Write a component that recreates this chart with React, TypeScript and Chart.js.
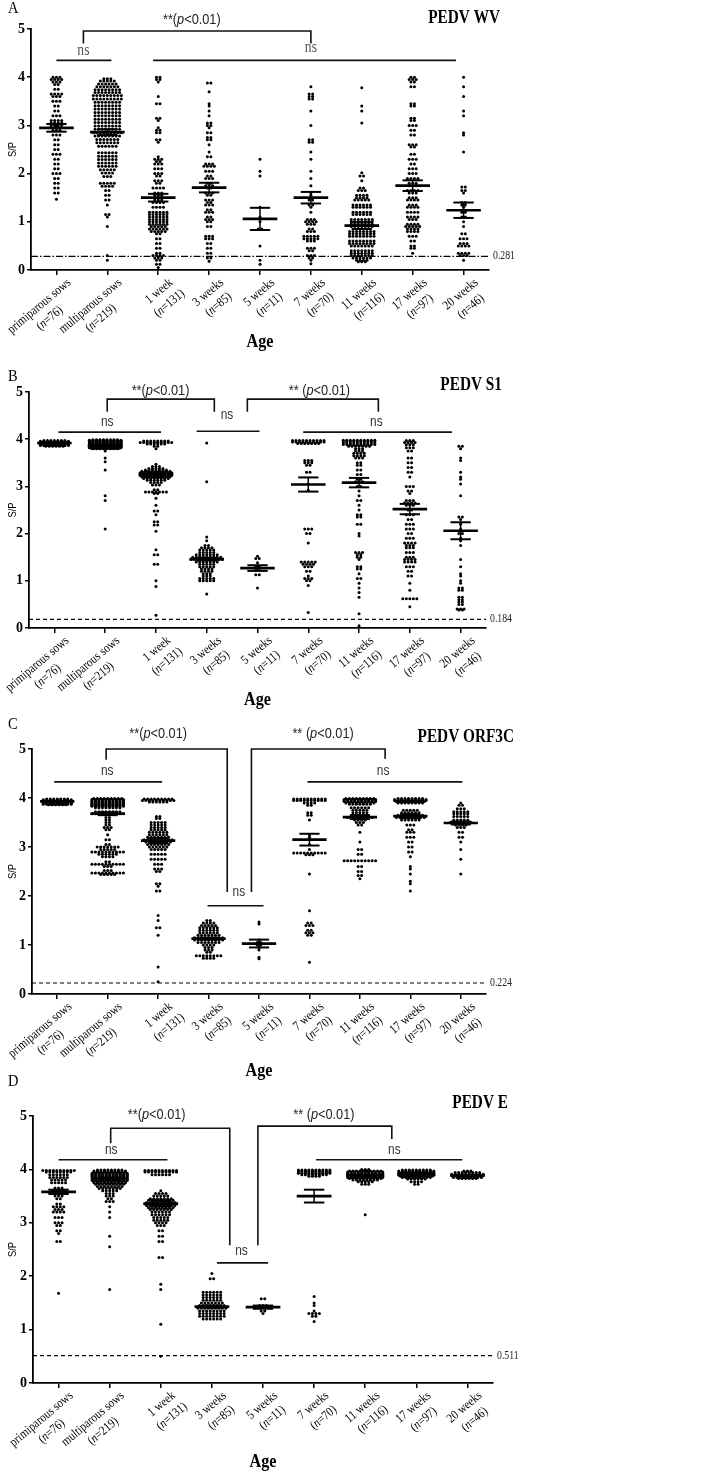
import React, { useEffect, useRef } from "react";
import { Chart, registerables } from "chart.js";
Chart.register(...registerables);

type Row = [number, number]; // [S/P value, number of dots on that row]
type NsBar = [number, number, number, number, number]; // x1, x2, y, textX, textY
type SigBracket = [number, number, number, number, number, number, number]; // x1, x2, yTop, yLeftEnd, yRightEnd, textX, textY

const categories = ["primiparous sows", "multiparous sows", "1 week", "3 weeks", "5 weeks", "7 weeks", "11 weeks", "17 weeks", "20 weeks"];
const sampleSizes = ["76", "219", "131", "85", "11", "70", "116", "97", "46"];
const yTicks = [0, 1, 2, 3, 4, 5];

// ---------------- Panel A: PEDV WV ----------------
const wvRows: Row[][] = [
  [[4.0,3],[3.95,4],[3.9,3],[3.85,2],[3.75,2],[3.65,4],[3.6,3],[3.5,3],[3.4,2],[3.3,2],[3.2,3],[3.1,4],[3.05,4],[3.0,4],[2.9,3],[2.8,3],[2.7,2],[2.6,2],[2.5,2],[2.4,3],[2.3,2],[2.2,2],[2.1,2],[2.0,3],[1.9,2],[1.8,2],[1.7,2],[1.6,2],[1.47,1]],
  [[3.97,3],[3.92,5],[3.86,6],[3.8,7],[3.74,8],[3.68,8],[3.62,9],[3.55,9],[3.48,8],[3.41,8],[3.34,8],[3.27,8],[3.2,8],[3.13,8],[3.06,8],[2.99,8],[2.92,8],[2.85,9],[2.78,8],[2.71,7],[2.64,7],[2.57,6],[2.43,6],[2.36,6],[2.29,6],[2.22,6],[2.15,6],[2.08,5],[2.01,4],[1.94,3],[1.8,5],[1.74,4],[1.65,2],[1.55,2],[1.45,2],[1.35,1],[1.15,2],[1.1,1],[0.9,1],[0.3,1],[0.2,1]],
  [[4.0,2],[3.95,2],[3.9,1],[3.6,1],[3.45,2],[3.15,2],[3.1,1],[2.95,1],[2.9,2],[2.85,2],[2.7,2],[2.65,1],[2.35,1],[2.3,3],[2.25,2],[2.2,3],[2.1,3],[2.0,3],[1.95,2],[1.85,3],[1.8,2],[1.7,4],[1.6,3],[1.55,3],[1.45,3],[1.4,4],[1.3,4],[1.2,6],[1.15,6],[1.1,6],[1.05,6],[1.0,6],[0.95,6],[0.9,5],[0.85,6],[0.8,5],[0.75,2],[0.65,2],[0.55,2],[0.45,2],[0.35,2],[0.3,4],[0.25,3],[0.2,2],[0.12,2],[0.05,1]],
  [[3.88,2],[3.7,1],[3.45,1],[3.4,1],[3.3,1],[3.2,1],[3.05,2],[3.0,2],[2.95,1],[2.85,2],[2.75,2],[2.7,2],[2.6,1],[2.45,1],[2.35,2],[2.2,3],[2.15,4],[2.05,3],[1.95,2],[1.9,3],[1.8,2],[1.75,3],[1.7,2],[1.6,3],[1.55,2],[1.45,3],[1.4,2],[1.35,3],[1.25,2],[1.2,3],[1.1,2],[1.05,3],[1.0,2],[0.9,2],[0.7,3],[0.65,3],[0.55,2],[0.45,2],[0.35,2],[0.25,2],[0.18,1]],
  [[2.3,1],[2.05,1],[1.95,1],[1.3,1],[1.1,1],[1.0,1],[0.85,2],[0.5,1],[0.2,1],[0.12,1]],
  [[3.8,1],[3.65,2],[3.6,2],[3.55,2],[3.3,1],[3.0,1],[2.7,2],[2.65,2],[2.45,1],[2.3,1],[2.05,1],[1.9,1],[1.75,1],[1.6,1],[1.55,1],[1.45,2],[1.35,2],[1.3,1],[1.2,1],[1.05,3],[1.0,4],[0.95,3],[0.85,2],[0.8,3],[0.7,5],[0.65,5],[0.6,3],[0.45,3],[0.4,2],[0.3,3],[0.25,2],[0.2,1],[0.13,1]],
  [[3.78,1],[3.4,1],[3.3,1],[3.05,1],[2.02,1],[1.95,2],[1.85,1],[1.7,2],[1.65,3],[1.55,4],[1.5,4],[1.45,5],[1.35,6],[1.3,6],[1.2,6],[1.15,6],[1.05,7],[1.0,7],[0.95,7],[0.9,7],[0.8,8],[0.75,8],[0.7,8],[0.6,8],[0.55,8],[0.5,7],[0.4,7],[0.35,7],[0.3,7],[0.25,6],[0.2,4],[0.17,3]],
  [[4.0,2],[3.95,3],[3.9,2],[3.8,2],[3.45,2],[3.4,2],[3.15,2],[3.1,2],[3.0,3],[2.9,2],[2.8,2],[2.6,3],[2.55,2],[2.4,2],[2.3,3],[2.2,2],[2.1,3],[2.0,3],[1.9,4],[1.8,3],[1.75,3],[1.65,4],[1.6,3],[1.5,3],[1.45,4],[1.35,3],[1.3,4],[1.2,4],[1.1,4],[1.05,3],[0.95,4],[0.9,5],[0.85,4],[0.8,4],[0.7,3],[0.6,2],[0.5,2],[0.45,2],[0.35,1]],
  [[4.0,1],[3.8,1],[3.6,1],[3.3,1],[3.2,1],[2.85,1],[2.8,1],[2.45,1],[1.72,2],[1.65,2],[1.6,1],[1.4,2],[1.35,2],[1.3,1],[1.2,2],[1.1,2],[1.0,1],[0.9,1],[0.75,2],[0.65,3],[0.55,3],[0.5,4],[0.35,4],[0.3,3],[0.2,1]],
];
const wvMeans = [2.95, 2.86, 1.5, 1.71, 1.06, 1.5, 0.92, 1.75, 1.24];
const wvSems = [0.08, 0.06, 0.08, 0.1, 0.23, 0.12, 0.07, 0.11, 0.16];
const wvCutoff = 0.281;
const wvNsBars: NsBar[] = [[0, 1.08, 4.35, 0.53, 4.55], [1.9, 7.85, 4.35, 5.0, 4.6]];
const wvSigBrackets: SigBracket[] = [[0.53, 5.0, 4.96, 4.7, 4.7, 2.66, 5.19]];

// ---------------- Panel B: PEDV S1 ----------------
const s1Rows: Row[][] = [
  [[3.97,7],[3.955,9],[3.94,9],[3.925,9],[3.91,9],[3.895,9],[3.88,9],[3.865,9],[3.85,6]],
  [[3.99,8],[3.98,10],[3.97,10],[3.96,10],[3.95,10],[3.94,10],[3.93,10],[3.92,10],[3.91,10],[3.9,10],[3.89,10],[3.88,10],[3.87,10],[3.86,10],[3.85,10],[3.84,10],[3.83,10],[3.82,10],[3.81,9],[3.8,8],[3.75,1],[3.6,1],[3.52,1],[3.35,1],[2.8,1],[2.7,1],[2.1,1]],
  [[3.96,8],[3.93,10],[3.9,6],[3.85,2],[3.8,1],[3.47,1],[3.42,3],[3.38,5],[3.35,7],[3.32,9],[3.29,10],[3.26,10],[3.23,10],[3.2,9],[3.17,8],[3.13,6],[3.08,4],[3.03,3],[2.93,2],[2.88,7],[2.85,2],[2.75,1],[2.6,1],[2.48,2],[2.4,1],[2.25,2],[2.18,2],[2.05,1],[1.66,1],[1.55,2],[1.35,2],[1.0,1],[0.88,1],[0.27,1]],
  [[3.92,1],[3.1,1],[1.93,1],[1.85,1],[1.75,2],[1.7,4],[1.65,5],[1.6,5],[1.55,7],[1.5,9],[1.45,10],[1.4,7],[1.35,5],[1.3,5],[1.25,4],[1.2,4],[1.15,3],[1.1,3],[1.05,5],[1.0,5],[0.72,1]],
  [[1.52,1],[1.47,2],[1.38,1],[1.3,2],[1.22,2],[1.13,2],[0.85,1]],
  [[3.97,10],[3.94,10],[3.91,7],[3.55,3],[3.5,3],[3.45,2],[3.3,2],[3.05,1],[2.92,1],[2.1,3],[2.0,2],[1.8,1],[1.4,5],[1.35,4],[1.3,3],[1.2,2],[1.1,1],[1.05,3],[1.0,2],[0.9,1],[0.33,1]],
  [[3.98,10],[3.95,10],[3.92,10],[3.89,10],[3.85,7],[3.8,3],[3.75,3],[3.7,4],[3.65,4],[3.6,3],[3.5,2],[3.45,2],[3.35,2],[3.25,2],[3.15,2],[3.1,3],[3.0,2],[2.9,1],[2.8,1],[2.7,2],[2.6,1],[2.5,1],[2.4,2],[2.35,2],[2.2,2],[2.0,1],[1.95,1],[1.6,3],[1.55,2],[1.5,2],[1.45,1],[1.3,2],[1.25,2],[1.15,1],[1.05,2],[0.95,1],[0.85,1],[0.75,1],[0.65,1],[0.3,1],[0.05,1]],
  [[3.97,3],[3.93,4],[3.88,3],[3.82,3],[3.75,2],[3.6,2],[3.5,2],[3.4,2],[3.3,2],[3.2,1],[3.0,3],[2.9,2],[2.85,1],[2.7,3],[2.65,4],[2.6,3],[2.5,2],[2.4,3],[2.3,2],[2.2,3],[2.1,3],[2.0,2],[1.9,3],[1.8,4],[1.75,3],[1.7,3],[1.6,3],[1.5,3],[1.45,4],[1.4,4],[1.3,3],[1.2,2],[1.1,2],[0.95,1],[0.8,1],[0.62,5],[0.45,1]],
  [[3.85,2],[3.8,1],[3.6,1],[3.55,1],[3.3,1],[3.2,1],[3.15,1],[3.05,1],[2.8,1],[2.35,2],[2.3,1],[2.2,1],[2.1,1],[2.0,2],[1.9,1],[1.85,1],[1.75,1],[1.45,1],[1.3,1],[1.15,1],[1.1,1],[1.0,1],[0.95,1],[0.85,2],[0.8,2],[0.65,2],[0.6,2],[0.55,2],[0.5,2],[0.4,3],[0.38,2]],
];
const s1Means = [3.92, 3.87, 3.26, 1.46, 1.27, 3.04, 3.08, 2.52, 2.06];
const s1Sems = [0.01, 0.02, 0.05, 0.03, 0.06, 0.15, 0.1, 0.11, 0.18];
const s1Cutoff = 0.184;
const s1NsBars: NsBar[] = [[0.08, 2.1, 4.15, 1.04, 4.36], [2.8, 4.04, 4.17, 3.4, 4.5], [4.9, 7.83, 4.15, 6.34, 4.36]];
const s1SigBrackets: SigBracket[] = [[1.04, 3.15, 4.85, 4.58, 4.58, 2.09, 5.02], [3.8, 6.38, 4.85, 4.58, 4.58, 5.22, 5.02]];

// ---------------- Panel C: PEDV ORF3C ----------------
const orfRows: Row[][] = [
  [[3.98,7],[3.965,9],[3.95,9],[3.935,9],[3.92,9],[3.905,9],[3.89,9],[3.875,9],[3.86,6]],
  [[3.99,9],[3.97,10],[3.95,10],[3.93,10],[3.91,10],[3.89,10],[3.87,10],[3.85,10],[3.83,10],[3.8,8],[3.72,8],[3.68,10],[3.6,2],[3.55,2],[3.5,2],[3.45,2],[3.4,3],[3.35,2],[3.25,1],[3.15,2],[3.05,2],[3.0,7],[2.95,5],[2.9,10],[2.85,6],[2.8,4],[2.7,2],[2.65,10],[2.6,3],[2.52,3],[2.47,10],[2.44,5]],
  [[3.98,9],[3.95,10],[3.92,6],[3.62,2],[3.58,2],[3.5,5],[3.45,5],[3.4,5],[3.35,5],[3.3,6],[3.25,6],[3.2,7],[3.15,9],[3.1,8],[3.05,7],[3.0,6],[2.95,5],[2.85,5],[2.75,5],[2.65,3],[2.55,3],[2.5,2],[2.25,2],[2.2,1],[2.1,2],[1.6,1],[1.5,1],[1.35,2],[1.2,1],[0.55,1],[0.25,1]],
  [[1.5,2],[1.45,4],[1.4,5],[1.35,6],[1.3,6],[1.25,6],[1.2,7],[1.15,9],[1.1,9],[1.05,7],[1.0,4],[0.95,3],[0.9,3],[0.85,2],[0.78,8],[0.73,4]],
  [[1.47,1],[1.43,1],[1.1,1],[1.05,2],[1.0,2],[0.95,1],[0.9,1],[0.75,1],[0.72,1]],
  [[3.98,10],[3.95,10],[3.9,4],[3.85,2],[3.7,2],[3.65,2],[3.55,1],[3.25,1],[3.2,1],[3.05,1],[2.95,1],[2.88,10],[2.84,3],[2.45,1],[1.7,1],[1.45,2],[1.4,3],[1.3,2],[1.25,3],[1.2,2],[0.65,1]],
  [[3.99,9],[3.97,10],[3.95,10],[3.93,10],[3.9,9],[3.87,7],[3.8,6],[3.75,5],[3.7,5],[3.65,5],[3.6,8],[3.55,4],[3.5,3],[3.45,2],[3.3,1],[3.1,1],[2.95,2],[2.85,2],[2.72,10],[2.6,2],[2.5,2],[2.42,2],[2.35,1]],
  [[3.99,8],[3.97,10],[3.95,10],[3.93,9],[3.9,8],[3.75,5],[3.7,6],[3.65,8],[3.6,9],[3.55,6],[3.45,3],[3.35,2],[3.3,3],[3.2,3],[3.1,2],[3.0,2],[2.9,2],[2.8,1],[2.6,1],[2.55,1],[2.45,1],[2.3,1],[2.25,1],[2.1,1]],
  [[3.9,1],[3.85,2],[3.78,3],[3.72,5],[3.68,5],[3.62,5],[3.55,5],[3.5,7],[3.45,4],[3.4,3],[3.3,2],[3.2,2],[3.1,1],[2.95,1],[2.75,1],[2.45,1]],
];
const orfMeans = [3.93, 3.68, 3.13, 1.13, 1.03, 3.15, 3.61, 3.63, 3.49];
const orfSems = [0.01, 0.03, 0.05, 0.02, 0.08, 0.12, 0.04, 0.04, 0.03];
const orfCutoff = 0.224;
const orfNsBars: NsBar[] = [[-0.06, 2.08, 4.33, 0.99, 4.55], [2.98, 4.09, 1.8, 3.6, 2.07], [4.96, 8.03, 4.33, 6.46, 4.55]];
const orfSigBrackets: SigBracket[] = [[0.97, 3.37, 5.0, 4.78, 2.08, 2.0, 5.3], [3.85, 6.5, 5.0, 2.08, 4.8, 5.27, 5.3]];

// ---------------- Panel D: PEDV E ----------------
const eRows: Row[][] = [
  [[3.98,10],[3.95,8],[3.9,6],[3.85,6],[3.8,5],[3.75,5],[3.65,3],[3.6,4],[3.55,5],[3.5,3],[3.45,2],[3.35,2],[3.3,4],[3.25,3],[3.2,4],[3.1,3],[3.0,3],[2.95,2],[2.85,2],[2.8,1],[2.65,2],[1.68,1]],
  [[3.99,8],[3.97,10],[3.95,10],[3.93,11],[3.91,11],[3.89,11],[3.87,11],[3.85,11],[3.83,11],[3.81,11],[3.79,11],[3.77,10],[3.75,10],[3.72,9],[3.68,8],[3.64,7],[3.6,5],[3.55,3],[3.5,3],[3.45,2],[3.4,3],[3.3,1],[3.2,1],[3.1,1],[2.75,1],[2.55,1],[1.75,1]],
  [[3.98,10],[3.95,10],[3.9,6],[3.6,1],[3.55,4],[3.5,5],[3.45,7],[3.42,8],[3.38,9],[3.35,10],[3.32,9],[3.28,8],[3.25,7],[3.2,6],[3.15,6],[3.1,5],[3.05,5],[3.0,4],[2.95,3],[2.85,2],[2.75,2],[2.65,2],[2.35,2],[1.85,1],[1.75,1],[1.1,1],[0.5,1]],
  [[2.05,1],[1.95,2],[1.7,6],[1.65,6],[1.6,6],[1.55,6],[1.5,7],[1.45,8],[1.4,9],[1.35,8],[1.3,8],[1.25,8],[1.2,6]],
  [[1.58,2],[1.45,3],[1.42,3],[1.35,2],[1.3,1]],
  [[3.99,10],[3.97,10],[3.95,10],[3.93,10],[3.9,8],[3.87,4],[1.62,1],[1.5,1],[1.45,1],[1.35,1],[1.3,4],[1.25,2],[1.15,1]],
  [[4.0,3],[3.97,10],[3.95,11],[3.93,11],[3.91,11],[3.89,11],[3.87,11],[3.85,11],[3.83,10],[3.8,8],[3.77,5],[3.72,3],[3.15,1]],
  [[3.99,9],[3.97,11],[3.95,11],[3.93,11],[3.91,11],[3.89,11],[3.87,10],[3.85,9],[3.82,6],[3.77,4],[3.72,2]],
  [[3.97,3],[3.94,8],[3.91,10],[3.88,10],[3.85,9],[3.83,6]],
];
const eMeans = [3.58, 3.83, 3.36, 1.43, 1.42, 3.5, 3.89, 3.93, 3.89];
const eSems = [0.04, 0.02, 0.05, 0.02, 0.03, 0.12, 0.01, 0.01, 0.01];
const eCutoff = 0.511;
const eNsBars: NsBar[] = [[0, 2.13, 4.18, 1.03, 4.36], [3.1, 4.1, 2.25, 3.58, 2.46], [5.04, 7.9, 4.18, 6.57, 4.36]];
const eSigBrackets: SigBracket[] = [[1.02, 3.35, 4.77, 4.49, 2.58, 1.92, 5.02], [3.9, 6.52, 4.81, 2.58, 4.57, 5.19, 5.02]];

const SERIF = '"Liberation Serif", "Times New Roman", serif';
const SANS = '"Liberation Sans", Arial, sans-serif';
const SQUEEZE = 0.85;
const W = 705;

const panels = [
  { letter: "A", title: "PEDV WV", rows: wvRows, means: wvMeans, sems: wvSems, cutoff: wvCutoff, dash: [7, 2, 1.5, 2], nsBars: wvNsBars, sig: wvSigBrackets, sigPrefix: ["**("], nsSerif: true,
    top: 0, height: 370, plot: { left: 31, right: 489, top: 29, bottom: 270 }, letterY: 9, titleX: 500, titleY: 18, ageY: 342 },
  { letter: "B", title: "PEDV S1", rows: s1Rows, means: s1Means, sems: s1Sems, cutoff: s1Cutoff, dash: [4, 3], nsBars: s1NsBars, sig: s1SigBrackets, sigPrefix: ["**(", "** ("], nsSerif: false,
    top: 370, height: 345, plot: { left: 29, right: 486, top: 22, bottom: 258 }, letterY: 7, titleX: 502, titleY: 15, ageY: 330 },
  { letter: "C", title: "PEDV ORF3C", rows: orfRows, means: orfMeans, sems: orfSems, cutoff: orfCutoff, dash: [4, 3], nsBars: orfNsBars, sig: orfSigBrackets, sigPrefix: ["**(", "** ("], nsSerif: false,
    top: 715, height: 375, plot: { left: 32, right: 486, top: 34, bottom: 279 }, letterY: 10, titleX: 514, titleY: 22, ageY: 356 },
  { letter: "D", title: "PEDV E", rows: eRows, means: eMeans, sems: eSems, cutoff: eCutoff, dash: [4, 3], nsBars: eNsBars, sig: eSigBrackets, sigPrefix: ["**(", "** ("], nsSerif: false,
    top: 1075, height: 400, plot: { left: 33, right: 493, top: 41, bottom: 308 }, letterY: 7, titleX: 508, titleY: 28, ageY: 387 },
];

function drawParts(ctx: CanvasRenderingContext2D, parts: [string, boolean][], x: number, y: number, family: string, size: number, align: string, color: string, weight = "") {
  ctx.save();
  ctx.translate(x, y);
  ctx.scale(SQUEEZE, 1);
  ctx.textBaseline = "middle";
  ctx.textAlign = "left";
  ctx.fillStyle = color;
  const fonts = parts.map(([, it]) => `${it ? "italic " : ""}${weight ? weight + " " : ""}${size}px ${family}`);
  const widths = parts.map(([t], k) => { ctx.font = fonts[k]; return ctx.measureText(t).width; });
  const total = widths.reduce((a, b) => a + b, 0);
  let cx = align === "center" ? -total / 2 : align === "right" ? -total : 0;
  parts.forEach(([t], k) => { ctx.font = fonts[k]; ctx.fillText(t, cx, 0); cx += widths[k]; });
  ctx.restore();
}

function Panel({ p }: { p: any }) {
  const ref = useRef<HTMLCanvasElement>(null);
  useEffect(() => {
    const canvas = ref.current;
    if (!canvas) return;
    const H = p.height;
    const catW = (p.plot.right - p.plot.left) / categories.length;
    const dx = 3.5 / catW;
    const points: { x: number; y: number }[] = [];
    p.rows.forEach((groupRows: Row[], gi: number) => {
      groupRows.forEach(([v, c]) => {
        for (let k = 0; k < c; k++) points.push({ x: gi + (k - (c - 1) / 2) * dx, y: v });
      });
    });

    const overlay = {
      id: "overlay" + p.letter,
      afterDatasetsDraw(chart: any) {
        const ctx: CanvasRenderingContext2D = chart.ctx;
        const xs = chart.scales.x, ys = chart.scales.y, ca = chart.chartArea;
        const px = (v: number) => xs.getPixelForValue(v);
        const py = (v: number) => ys.getPixelForValue(v);
        const line = (x1: number, y1: number, x2: number, y2: number) => { ctx.beginPath(); ctx.moveTo(x1, y1); ctx.lineTo(x2, y2); ctx.stroke(); };
        ctx.save();
        ctx.strokeStyle = "#000";
        ctx.setLineDash([]);
        // mean and SEM
        p.means.forEach((m: number, i: number) => {
          const s = p.sems[i];
          ctx.lineWidth = 2.7; line(px(i - 0.34), py(m), px(i + 0.34), py(m));
          ctx.lineWidth = 2; line(px(i - 0.2), py(m + s), px(i + 0.2), py(m + s)); line(px(i - 0.2), py(m - s), px(i + 0.2), py(m - s));
          ctx.lineWidth = 1.5; line(px(i), py(m + s), px(i), py(m - s));
        });
        // ns bars
        ctx.strokeStyle = "#111";
        ctx.lineWidth = 1.6;
        p.nsBars.forEach(([x1, x2, y, tx, ty]: NsBar) => {
          line(px(x1), py(y), px(x2), py(y));
          if (p.nsSerif) drawParts(ctx, [["ns", false]], px(tx), py(ty), SERIF, 16, "center", "#555");
          else drawParts(ctx, [["ns", false]], px(tx), py(ty), SANS, 14, "center", "#333");
        });
        // significance brackets
        p.sig.forEach(([x1, x2, yT, yL, yR, tx, ty]: SigBracket, k: number) => {
          ctx.beginPath();
          ctx.moveTo(px(x1), py(yL)); ctx.lineTo(px(x1), py(yT)); ctx.lineTo(px(x2), py(yT)); ctx.lineTo(px(x2), py(yR));
          ctx.stroke();
          drawParts(ctx, [[p.sigPrefix[k] || "**(", false], ["p", true], ["<0.01)", false]], px(tx), py(ty), SANS, 15, "center", "#222");
        });
        // cutoff label
        drawParts(ctx, [[String(p.cutoff), false]], ca.right + 4, py(p.cutoff), SERIF, 11.5, "left", "#222");
        // x tick labels (rotated, two lines)
        categories.forEach((cat, i) => {
          const tx = px(i);
          ctx.save();
          ctx.translate(tx + 13, ca.bottom + 11);
          ctx.rotate(-40 * Math.PI / 180);
          ctx.scale(SQUEEZE, 1);
          ctx.fillStyle = "#000";
          ctx.textBaseline = "middle";
          ctx.font = `13px ${SERIF}`;
          ctx.textAlign = "right";
          ctx.fillText(cat, 0, 0);
          const w1 = ctx.measureText(cat).width;
          const parts: [string, boolean][] = [["(", false], ["n", true], ["=" + sampleSizes[i] + ")", false]];
          const fonts = parts.map(([, it]) => `${it ? "italic " : ""}13px ${SERIF}`);
          const widths = parts.map(([t], k) => { ctx.font = fonts[k]; return ctx.measureText(t).width; });
          const total = widths.reduce((a, b) => a + b, 0);
          let cx = -w1 / 2 - total / 2;
          ctx.textAlign = "left";
          parts.forEach(([t], k) => { ctx.font = fonts[k]; ctx.fillText(t, cx, 16); cx += widths[k]; });
          ctx.restore();
        });
        // axis title "Age"
        drawParts(ctx, [["Age", false]], (ca.left + ca.right) / 2, p.ageY, SERIF, 19, "center", "#000", "bold");
        // y title
        ctx.save();
        ctx.translate(13, (ca.top + ca.bottom) / 2);
        ctx.rotate(-Math.PI / 2);
        drawParts(ctx, [["S/P", false]], 0, 0, SANS, 11, "center", "#000");
        ctx.restore();
        // panel letter and title
        drawParts(ctx, [[p.letter, false]], 8, p.letterY, SERIF, 17, "left", "#000");
        drawParts(ctx, [[p.title, false]], p.titleX, p.titleY, SERIF, 18, "right", "#000", "bold");
        ctx.restore();
      },
    };

    const chart = new Chart(canvas, {
      type: "scatter",
      data: {
        datasets: [
          { type: "scatter", data: points, pointRadius: 1.5, pointBackgroundColor: "#000", pointBorderWidth: 0, pointHoverRadius: 1.5, order: 1 } as any,
          { type: "line", data: [{ x: -0.5, y: p.cutoff }, { x: 8.5, y: p.cutoff }], borderColor: "#000", borderWidth: 1.2, borderDash: p.dash, pointRadius: 0, order: 2 } as any,
        ],
      },
      options: {
        responsive: false,
        animation: false,
        devicePixelRatio: 1,
        events: [],
        layout: { padding: { top: p.plot.top, right: W - p.plot.right, bottom: 0, left: 0 } },
        plugins: { legend: { display: false }, tooltip: { enabled: false } },
        scales: {
          x: {
            type: "linear", min: -0.5, max: 8.5,
            afterBuildTicks: (s: any) => { s.ticks = categories.map((_, i) => ({ value: i })); },
            afterFit: (s: any) => { s.height = H - p.plot.bottom; },
            ticks: { display: false },
            grid: { drawOnChartArea: false, drawTicks: true, tickLength: 5, color: "#000", lineWidth: 1.5 },
            border: { display: true, color: "#000", width: 1.8 },
          },
          y: {
            min: 0, max: 5,
            afterBuildTicks: (s: any) => { s.ticks = yTicks.map((v) => ({ value: v })); },
            afterFit: (s: any) => { s.width = p.plot.left; },
            ticks: { color: "#000", font: { family: SERIF, weight: "bold", size: 14 }, padding: 2 },
            grid: { drawOnChartArea: false, drawTicks: true, tickLength: 4, color: "#000", lineWidth: 1.5 },
            border: { display: true, color: "#000", width: 1.8 },
          },
        },
      } as any,
      plugins: [overlay],
    });
    return () => chart.destroy();
  }, [p]);
  return (
    <canvas ref={ref} width={W} height={p.height}
      style={{ position: "absolute", left: 0, top: p.top, width: W, height: p.height, display: "block" }} />
  );
}

export default function App() {
  return (
    <div style={{ position: "absolute", left: 0, top: 0, width: W, height: 1475, background: "#fff", overflow: "hidden" }}>
      {panels.map((p) => <Panel key={p.letter} p={p} />)}
    </div>
  );
}
